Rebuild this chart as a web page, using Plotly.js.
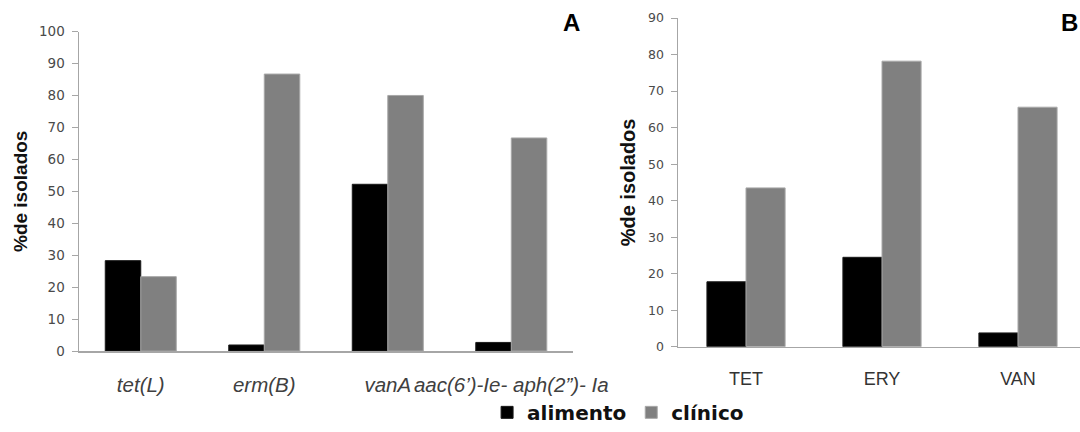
<!DOCTYPE html>
<html>
<head>
<meta charset="utf-8">
<script src="https://cdn.plot.ly/plotly-3.0.1.min.js"></script>
<style>html,body{margin:0;padding:0;background:#fff;}#chart{width:1080px;height:432px;}</style>
</head>
<body>
<div id="chart"></div>
<script>
// Panel A: genes
const genesA = ["tet(L)", "erm(B)", "vanA", "aac(6’)-Ie- aph(2”)- Ia"];
const alimentoA = [28.3, 1.9, 52.2, 2.7];
const clinicoA = [23.3, 86.7, 80.0, 66.7];
// Panel B: antibiotics
const drugsB = ["TET", "ERY", "VAN"];
const alimentoB = [17.8, 24.5, 3.8];
const clinicoB = [43.5, 78.2, 65.6];
const yTicksA = [0,10,20,30,40,50,60,70,80,90,100];
const yTicksB = [0,10,20,30,40,50,60,70,80,90];
const seriesNames = ["alimento", "clínico"];

const blackMarker = {color: "#000000", line: {color: "#1a1a1a", width: 1}};
const grayMarker = {color: "#808080", line: {color: "#a8a8a8", width: 1}};

const data = [
  {type: "bar", name: seriesNames[0], x: genesA, y: alimentoA, marker: blackMarker, xaxis: "x", yaxis: "y", legendgroup: "a", hoverinfo: "y"},
  {type: "bar", name: seriesNames[1], x: genesA, y: clinicoA, marker: grayMarker, xaxis: "x", yaxis: "y", legendgroup: "c", hoverinfo: "y"},
  {type: "bar", name: seriesNames[0], x: drugsB, y: alimentoB, marker: blackMarker, xaxis: "x2", yaxis: "y2", legendgroup: "a", showlegend: false, hoverinfo: "y"},
  {type: "bar", name: seriesNames[1], x: drugsB, y: clinicoB, marker: grayMarker, xaxis: "x2", yaxis: "y2", legendgroup: "c", showlegend: false, hoverinfo: "y"}
];

const axisGray = "#a6a6a6";
const layout = {
  width: 1080, height: 432,
  margin: {l: 0, r: 0, t: 0, b: 0},
  paper_bgcolor: "#ffffff", plot_bgcolor: "#ffffff",
  barmode: "group", bargap: 0.425, bargroupgap: 0,
  showlegend: true,
  legend: {orientation: "h", x: 0.451, xanchor: "left", y: 0.032, yanchor: "middle",
           font: {family: "DejaVu Sans", size: 20, color: "#111111", weight: "bold"},
           bgcolor: "rgba(0,0,0,0)", itemwidth: 30, traceorder: "normal"},
  xaxis: {domain: [0.07315, 0.5306], anchor: "y", type: "category",
          showline: true, linecolor: axisGray, linewidth: 1.5, ticks: "", showgrid: false, zeroline: false,
          tickangle: 0,
          tickfont: {family: "Liberation Sans", size: 20.5, color: "#404040", style: "italic"},
          ticklabelstandoff: 15},
  yaxis: {domain: [0.1759, 0.9259], anchor: "x", range: [0, 100], tickvals: yTicksA,
          showline: true, linecolor: axisGray, linewidth: 1.5, ticks: "outside", ticklen: 6, tickcolor: axisGray,
          showgrid: false, zeroline: false, ticklabelstandoff: 4,
          tickfont: {family: "DejaVu Sans", size: 13.5, color: "#4a4a4a"},
          title: {text: "%de isolados", standoff: 6, font: {family: "Liberation Sans", size: 19, color: "#111111", weight: "bold"}}},
  xaxis2: {domain: [0.6278, 1], anchor: "y2", type: "category", range: [-0.5, 2.456],
           showline: true, linecolor: axisGray, linewidth: 1.5, ticks: "", showgrid: false, zeroline: false,
           tickangle: 0,
           tickfont: {family: "Liberation Sans", size: 18, color: "#333333"},
           ticklabelstandoff: 15},
  yaxis2: {domain: [0.1859, 0.9576], anchor: "x2", range: [0, 90], tickvals: yTicksB,
           showline: true, linecolor: axisGray, linewidth: 1.5, ticks: "outside", ticklen: 6, tickcolor: axisGray,
           showgrid: false, zeroline: false, ticklabelstandoff: 4,
           tickfont: {family: "DejaVu Sans", size: 12.5, color: "#4a4a4a"},
           title: {text: "%de isolados", standoff: 7, font: {family: "Liberation Sans", size: 20, color: "#111111", weight: "bold"}}},
  annotations: [
    {text: "A", xref: "paper", yref: "paper", x: 0.5294, y: 0.948, xanchor: "center", yanchor: "middle",
     showarrow: false, font: {family: "Liberation Sans", size: 24, color: "#000000", weight: "bold"}},
    {text: "B", xref: "paper", yref: "paper", x: 1, y: 0.948, xanchor: "right", yanchor: "middle",
     showarrow: false, font: {family: "Liberation Sans", size: 24, color: "#000000", weight: "bold"}}
  ]
};

Plotly.newPlot("chart", data, layout, {displayModeBar: false, staticPlot: true});
</script>
</body>
</html>
